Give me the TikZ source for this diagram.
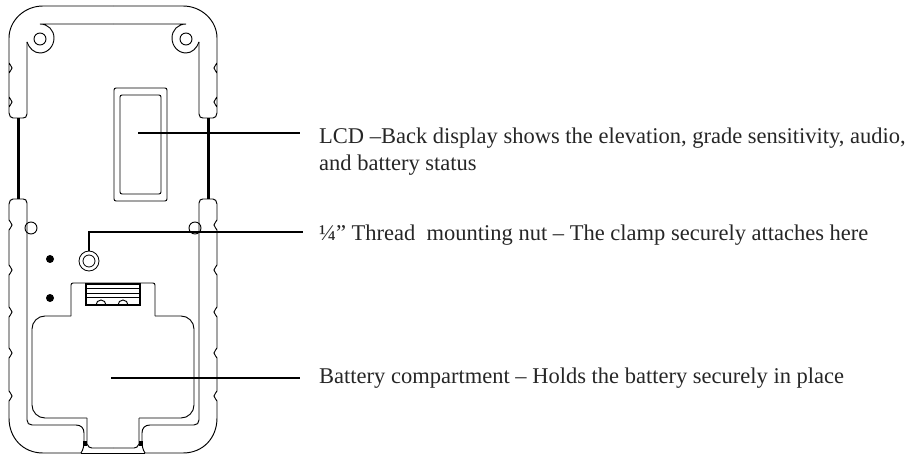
\documentclass[tikz,border=0pt]{standalone}
\usepackage{fontspec}
\setmainfont{Liberation Serif}
\usetikzlibrary{positioning}
\newcommand{\notch}[1]{-- (-104,#1-5) .. controls (-104,#1-3) and (-101,#1-3) .. (-101,#1) .. controls (-101,#1+3) and (-104,#1+3) .. (-104,#1+5)}

\begin{document}
\begin{tikzpicture}[x=1pt,y=-1pt]
    \tikzset { outline/.style = { draw,line width=0.95pt } }
    \tikzset { leader/.style = { draw,line width=1.2pt } }
    \tikzset { callout/.style = { inner sep=0pt,anchor=base west,align=left,text=black!85,font=\fontsize{22.5}{27}\selectfont } }

    \useasboundingbox (0,0) rectangle (907,454);

    \foreach \flip in {1,-1} {
      \begin{scope}[xshift=113pt,xscale=\flip]
        \draw[outline] (-86,42) -- (-86,114) .. controls (-86,117) and (-88,118) .. (-90,118)
          -- (-100,118) .. controls (-102,118) and (-104,116) .. (-104,113)
          \notch{102} \notch{68} -- (-104,38) .. controls (-104,21) and (-89,6) .. (-70,6) -- (0,6);
        \draw[outline] (0,24) -- (-73,24) .. controls (-65,24) and (-59,30) .. (-59,38)
          .. controls (-59,46) and (-65,53) .. (-73,53) .. controls (-79,53) and (-84,48) .. (-86,42);
        \draw[outline] (-73,39) circle (6);
        \draw[line width=3pt] (-95,118) -- (-95,199);
        \draw[outline] (-82,228) circle (6);
        \draw[outline] (-86,420) -- (-86,203) .. controls (-86,200) and (-88,199) .. (-90,199)
          -- (-100,199) .. controls (-102,199) and (-104,201) .. (-104,204)
          \notch{225} \notch{270} \notch{312} \notch{353} \notch{396}
          -- (-104,418) .. controls (-104,438) and (-90,453) .. (-70,453) -- (-32,453)
          .. controls (-30,450) and (-29,446) .. (-29,442) -- (-29,433)
          .. controls (-29,428) and (-32,425) .. (-37,425) -- (-81,425)
          .. controls (-84,425) and (-86,423) .. (-86,420);
        \draw[outline] (-26,418) -- (-26,444) .. controls (-25,447) and (-23,448) .. (-21,448) -- (0,448);
        \fill (-30,441) rectangle (-26,446);
      \end{scope}
    }

    \draw[outline] (81,453) -- (145,453);

    \draw[outline,rounded corners=2pt] (114,88) rectangle (167,201);
    \draw[outline,rounded corners=2pt] (120,95) rectangle (161,194);

    \fill (50,259) circle (4);
    \fill (50,298) circle (4);

    \node[draw,circle,line width=0.8pt,inner sep=0pt,minimum size=20pt] (nutRing) at (89,261) {};
    \node[draw,circle,line width=0.8pt,inner sep=0pt,minimum size=12pt] (nutHole) at (89,261) {};

    \draw[outline,rounded corners=13pt] (87,418) -- (32,418) -- (32,316) -- (71,316);
    \draw[outline,rounded corners=13pt] (139,418) -- (194,418) -- (194,316) -- (155,316);
    \draw[outline,rounded corners=2pt] (71,316) -- (71,283) -- (155,283) -- (155,316);

    \draw[line width=1.4pt] (86,284) rectangle (140,305);
    \draw[line width=0.6pt] (86,288) -- (140,288) (86,293) -- (140,293) (86,297) -- (140,297);
    \draw[outline] (96,305) arc (180:360:5) (118,305) arc (180:360:5);

    \node[callout] (lcdLabel) at (319,170.5) {LCD --Back display shows the elevation, grade sensitivity, audio,\\and battery status};
    \node[callout] (nutLabel) at (319,241) {¼” Thread\ \ mounting nut -- The clamp securely attaches here};
    \node[callout] (batteryLabel) at (319,383) {Battery compartment -- Holds the battery securely in place};

    \coordinate (lcdPoint) at (138,133);
    \coordinate (lcdEnd) at (300,133);
    \coordinate (nutEnd) at (303,232);
    \coordinate (batteryPoint) at (111,378);
    \coordinate (batteryEnd) at (300,378);

    \draw[leader] (lcdPoint) -- (lcdEnd);
    \draw[leader] (nutRing.north) |- (nutEnd);
    \draw[leader] (batteryPoint) -- (batteryEnd);

  \end{tikzpicture}
\end{document}
